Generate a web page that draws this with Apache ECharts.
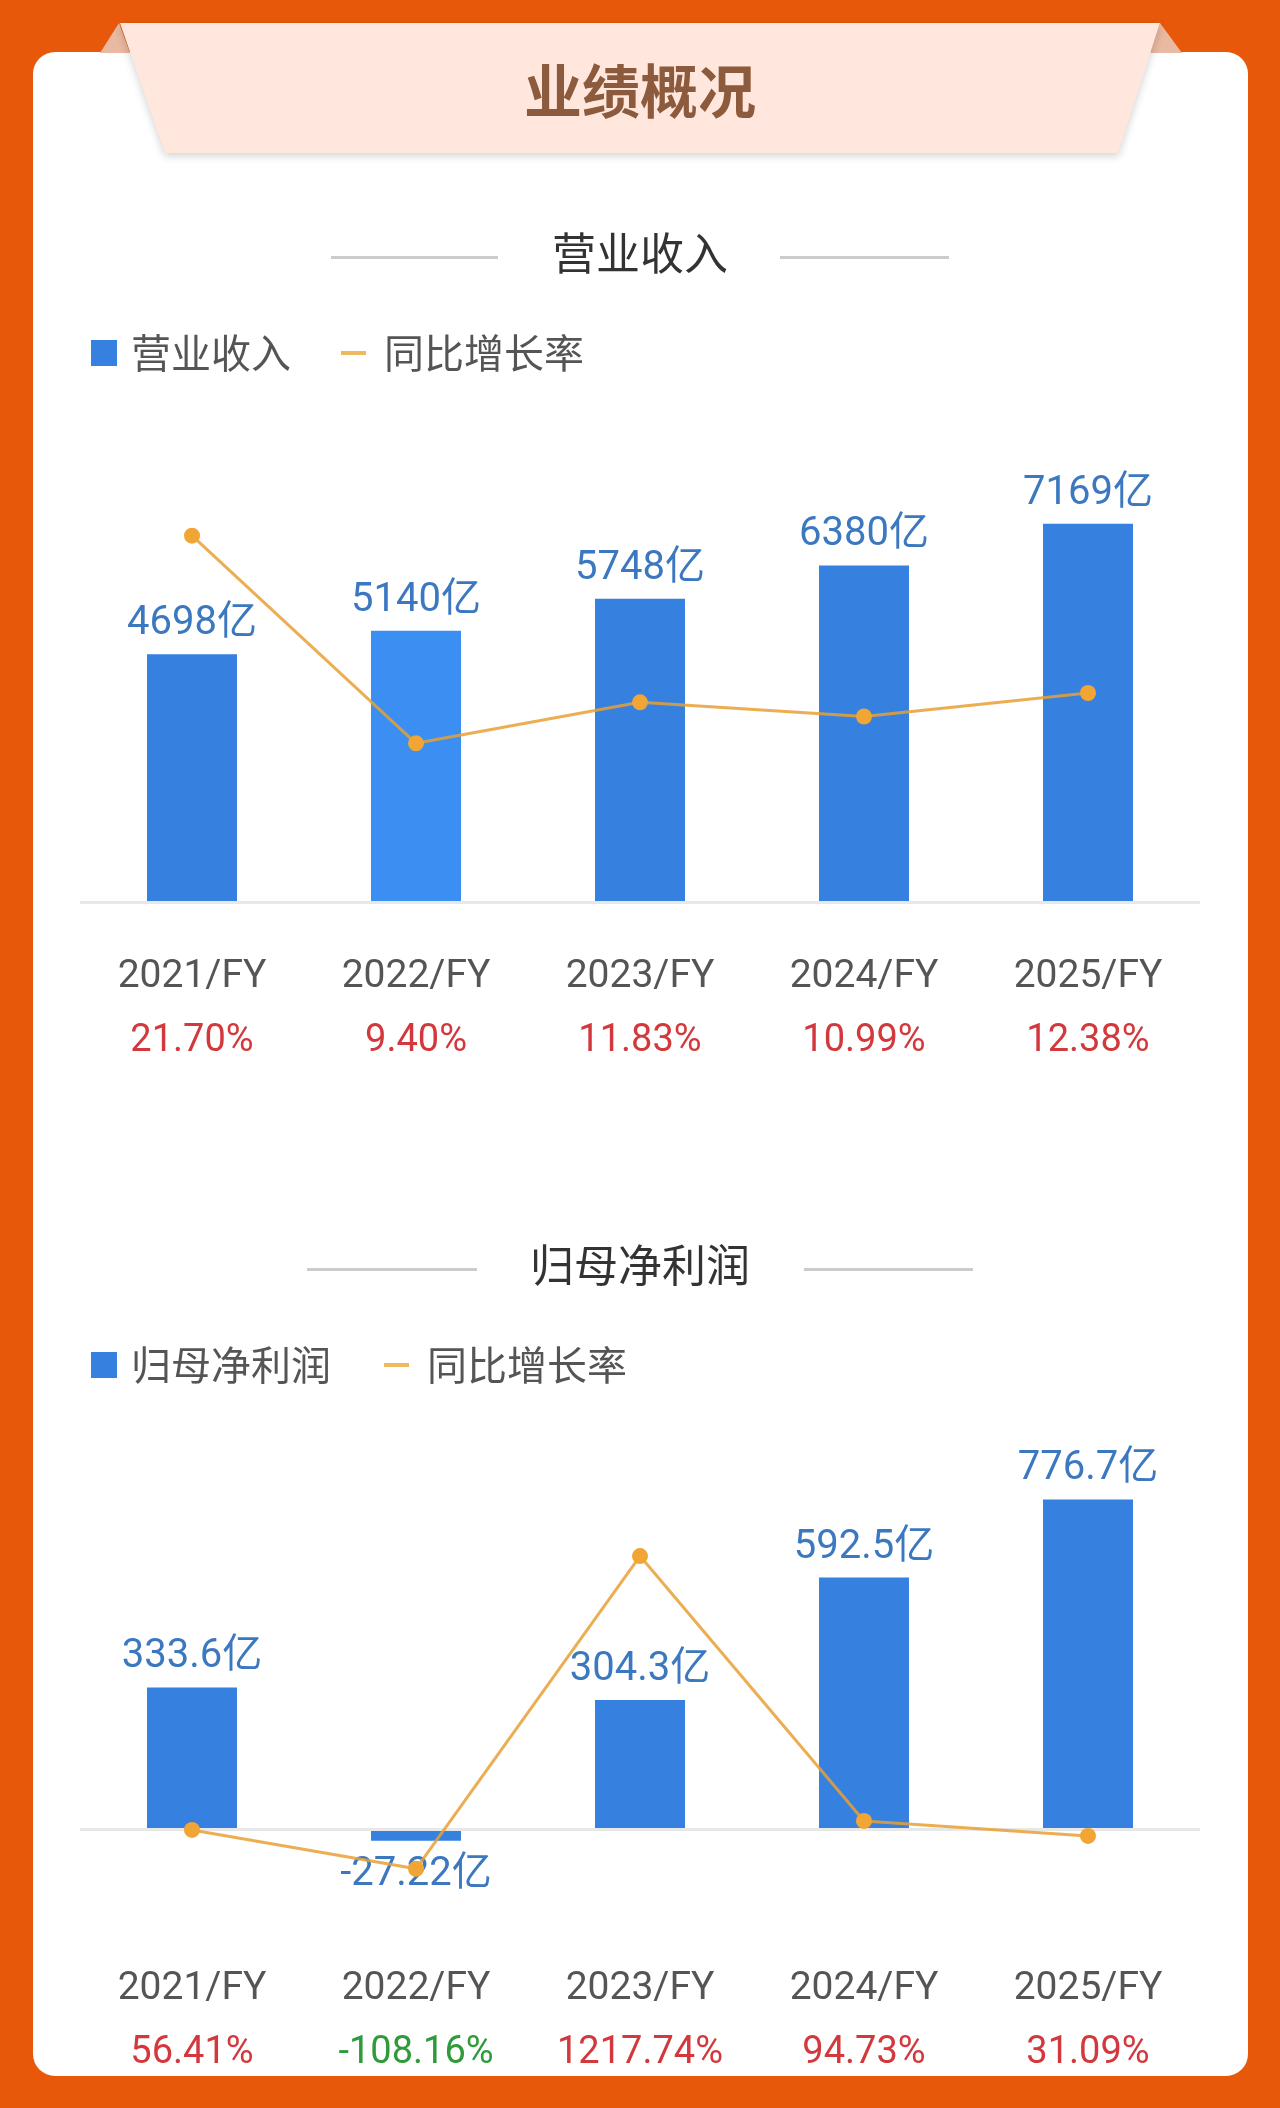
<!DOCTYPE html>
<html><head><meta charset="utf-8">
<script src="https://cdn.jsdelivr.net/npm/echarts@6/dist/echarts.min.js"></script>
<style>html,body{margin:0;padding:0;background:#E8580A;}#c{width:1280px;height:2108px;}</style>
</head><body><div id="c"></div>
<script>
const categories = ['2021/FY', '2022/FY', '2023/FY', '2024/FY', '2025/FY'];
const revenue = [4698, 5140, 5748, 6380, 7169];
const revenueGrowth = [21.70, 9.40, 11.83, 10.99, 12.38];
const netProfit = [333.6, -27.22, 304.3, 592.5, 776.7];
const netProfitGrowth = [56.41, -108.16, 1217.74, 94.73, 31.09];

const FONT = 'Roboto, "Noto Sans CJK SC", sans-serif';
const CJK = '"Noto Sans CJK SC", sans-serif';
const BLUE = '#3681E0';
const ORANGE = '#F0A534';

function xLabel(growth) {
  return function (v, i) {
    const g = growth[i];
    return '{y|' + v + '}\n{' + (g < 0 ? 'n' : 'p') + '|' + g.toFixed(2) + '%}';
  };
}
const xRich = {
  y: { fontSize: 39, color: '#555', lineHeight: 64, fontFamily: FONT },
  p: { fontSize: 38, color: '#D2383C', lineHeight: 64, fontFamily: FONT },
  n: { fontSize: 38, color: '#2E9A3A', lineHeight: 64, fontFamily: FONT }
};
function xAxisOf(gi, growth) {
  return {
    type: 'category', gridIndex: gi, data: categories,
    axisLine: { show: false, onZero: false }, axisTick: { show: false },
    axisLabel: { margin: 43, formatter: xLabel(growth), rich: xRich, interval: 0 }
  };
}
function hiddenY(gi, min, max) {
  return { type: 'value', gridIndex: gi, min: min, max: max, show: false, splitLine: { show: false } };
}
const zeroLine = {
  silent: true, symbol: ['none', 'none'], label: { show: false },
  lineStyle: { color: '#E8E8E8', width: 3, type: 'solid' },
  emphasis: { disabled: true },
  data: [{ yAxis: 0 }]
};
function barLabel() {
  return {
    show: true, position: 'top', distance: 10,
    color: '#3C78C0', fontSize: 40, fontFamily: FONT,
    formatter: function (p) { return p.value + '亿'; }
  };
}
function legendPair(top, barName, dashLeft) {
  return [
    { data: [{ name: barName, icon: 'rect', itemStyle: { color: BLUE } }], left: 91, top: top, padding: 0,
      itemWidth: 26, itemHeight: 26, selectedMode: false,
      textStyle: { fontSize: 40, color: '#555', fontFamily: CJK, padding: [0, 0, 0, 9] } },
    { data: [{ name: '同比增长率', icon: 'path://M0,0h25v4h-25z', itemStyle: { color: '#EDB85E' } }],
      left: dashLeft, top: top, padding: 0,
      itemWidth: 25, itemHeight: 26, selectedMode: false,
      textStyle: { fontSize: 40, color: '#555', fontFamily: CJK, padding: [0, 0, 0, 13] } }
  ];
}

const chart = echarts.init(document.getElementById('c'), null, { renderer: 'canvas' });
chart.setOption({
  animation: false,
  backgroundColor: '#E8580A',
  graphic: [
    { type: 'rect', z: -20, shape: { x: 33, y: 52, width: 1215, height: 2024, r: 22 }, style: { fill: '#FFFFFF' } },
    { type: 'polygon', z: -19, shape: { points: [[100, 53], [119, 23], [130, 53]] }, style: { fill: '#E9B9A2' } },
    { type: 'polygon', z: -19, shape: { points: [[1150, 53], [1160, 23], [1182, 53]] }, style: { fill: '#E9B9A2' } },
    { type: 'polygon', z: -18, shape: { points: [[120, 23], [1160, 23], [1118, 153], [165, 153]] },
      style: { fill: '#FFE7DD', shadowBlur: 8, shadowColor: 'rgba(0,0,0,0.18)', shadowOffsetY: 3 } },
    { type: 'text', z: -17, x: 640, y: 91,
      style: { text: '业绩概况', fontSize: 58, fontWeight: 'bold', fill: '#8C5A3C', align: 'center', verticalAlign: 'middle', fontFamily: CJK } },
    { type: 'rect', z: -17, shape: { x: 331, y: 256, width: 167, height: 3 }, style: { fill: '#CCCCCC' } },
    { type: 'rect', z: -17, shape: { x: 780, y: 256, width: 169, height: 3 }, style: { fill: '#CCCCCC' } },
    { type: 'text', z: -17, x: 640, y: 253,
      style: { text: '营业收入', fontSize: 44, fill: '#333333', align: 'center', verticalAlign: 'middle', fontFamily: CJK } },
    { type: 'rect', z: -17, shape: { x: 307, y: 1268, width: 170, height: 3 }, style: { fill: '#CCCCCC' } },
    { type: 'rect', z: -17, shape: { x: 804, y: 1268, width: 169, height: 3 }, style: { fill: '#CCCCCC' } },
    { type: 'text', z: -17, x: 640, y: 1265,
      style: { text: '归母净利润', fontSize: 44, fill: '#333333', align: 'center', verticalAlign: 'middle', fontFamily: CJK } }
  ],
  legend: legendPair(333, '营业收入', 341).concat(legendPair(1345, '归母净利润', 384)),
  grid: [
    { left: 80, right: 80, top: 480, height: 422 },
    { left: 80, right: 80, top: 1489.5, height: 424.5 }
  ],
  xAxis: [xAxisOf(0, revenueGrowth), xAxisOf(1, netProfitGrowth)],
  yAxis: [hiddenY(0, 0, 8000), hiddenY(0, 0, 25), hiddenY(1, -200, 800), hiddenY(1, -300, 1500)],
  series: [
    { name: '营业收入', type: 'bar', xAxisIndex: 0, yAxisIndex: 0, data: revenue, barWidth: 90,
      itemStyle: { color: function (p) { return p.dataIndex === 1 ? '#3B8EF2' : BLUE; } },
      label: barLabel(), markLine: zeroLine },
    { name: '同比增长率', type: 'line', xAxisIndex: 0, yAxisIndex: 1, data: revenueGrowth,
      symbol: 'circle', symbolSize: 16, itemStyle: { color: ORANGE },
      lineStyle: { color: 'rgba(232,160,52,0.85)', width: 3 }, z: 5 },
    { name: '归母净利润', type: 'bar', xAxisIndex: 1, yAxisIndex: 2, barWidth: 90,
      data: netProfit.map(function (v) { return v < 0 ? { value: v, label: { position: 'bottom', distance: 14 } } : v; }),
      itemStyle: { color: BLUE },
      label: barLabel(), markLine: zeroLine },
    { name: '同比增长率', type: 'line', xAxisIndex: 1, yAxisIndex: 3, data: netProfitGrowth,
      symbol: 'circle', symbolSize: 16, itemStyle: { color: ORANGE },
      lineStyle: { color: 'rgba(232,160,52,0.85)', width: 3 }, z: 5 }
  ]
});
</script></body></html>
